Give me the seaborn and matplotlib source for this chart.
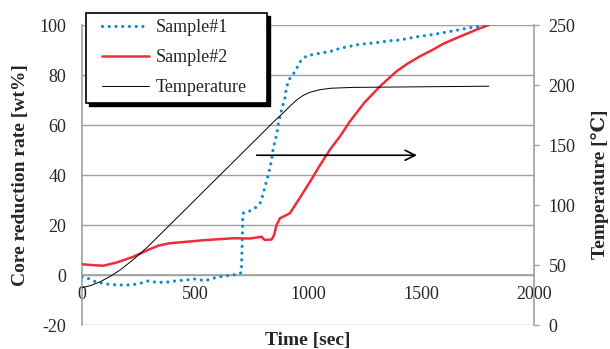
import matplotlib
matplotlib.use("Agg")
import matplotlib.pyplot as plt
from matplotlib.patches import Rectangle
from matplotlib.ticker import MultipleLocator
import seaborn as sns
import pandas as pd

# ---- data ----
s1_time = [0, 30, 60, 90, 125, 170, 212, 250, 292, 335, 380, 419, 460, 500, 544, 596,
           640, 692, 705, 708, 712, 736, 765, 788, 802, 810, 824, 839, 846, 861, 869,
           883, 898, 905, 920, 942, 965, 994, 1053, 1112, 1142, 1230, 1290, 1363, 1407,
           1481, 1540, 1598, 1640, 1686, 1730, 1774, 1800]
s1_rate = [-0.7, -1.5, -2.7, -3.3, -3.8, -4.0, -4.0, -3.5, -2.4, -3.0, -2.8, -2.3, -2.0,
           -1.6, -2.3, -0.9, -0.3, 0.3, 1.0, 10.0, 24.7, 25.3, 26.7, 28.7, 32.5, 35.5,
           40.0, 46.0, 50.7, 56.0, 60.7, 66.0, 70.7, 75.3, 78.7, 81.3, 85.3, 87.7, 88.7,
           89.7, 90.7, 92.3, 92.8, 93.7, 94.0, 95.3, 96.0, 96.9, 97.6, 98.4, 99.1, 99.7,
           100.0]

s2_time = [0, 40, 94, 153, 227, 301, 340, 389, 463, 551, 670, 743, 795, 802, 810, 839,
           850, 861, 876, 905, 920, 965, 1009, 1050, 1100, 1142, 1186, 1250, 1319, 1392,
           1440, 1496, 1550, 1599, 1650, 1702, 1750, 1800]
s2_rate = [4.3, 4.0, 3.7, 5.0, 7.3, 10.4, 11.8, 12.7, 13.3, 14.0, 14.7, 14.6, 15.3, 14.5,
           14.0, 14.2, 16.0, 20.0, 22.7, 24.0, 24.7, 31.0, 37.3, 43.5, 50.5, 55.5, 61.5,
           69.0, 75.5, 81.5, 84.5, 87.5, 90.0, 92.5, 94.5, 96.5, 98.3, 100.0]

temp_time = [0, 40, 80, 125, 170, 230, 290, 410, 550, 700, 850, 900, 920, 950, 980, 1010,
             1050, 1100, 1200, 1500, 1800]
temp_val = [31, 33, 36, 40.5, 46, 55, 65, 87.4, 113.6, 141.6, 169.7, 178.5, 182.3, 187.5,
            191.5, 194, 196, 197.3, 198, 198.5, 199]

x_ticks = [0, 500, 1000, 1500, 2000]
left_ticks = [-20, 0, 20, 40, 60, 80, 100]
right_ticks = [0, 50, 100, 150, 200, 250]
series_names = ["Sample#1", "Sample#2", "Temperature"]

# ---- style ----
sns.set_style("white")
plt.rcParams["font.family"] = ["Liberation Serif", "DejaVu Serif"]
plt.rcParams["axes.unicode_minus"] = False

GRAY = "#a0a0a0"
BLUE = "#0e8ccc"
RED = "#ee2c3c"

W, H = 610, 349
fig = plt.figure(figsize=(W / 100, H / 100), dpi=100)
ax = fig.add_axes([82 / W, 24 / H, 452 / W, 300 / H])
ax2 = ax.twinx()

df1 = pd.DataFrame({"t": s1_time, "v": s1_rate})
df2 = pd.DataFrame({"t": s2_time, "v": s2_rate})
dft = pd.DataFrame({"t": temp_time, "v": temp_val})

sns.lineplot(data=df1, x="t", y="v", ax=ax, color=BLUE, lw=2.3, estimator=None,
             linestyle=(0, (0.01, 2.1)), dash_capstyle="round", label=series_names[0],
             legend=False, zorder=3)
sns.lineplot(data=df2, x="t", y="v", ax=ax, color=RED, lw=1.8, estimator=None,
             label=series_names[1], legend=False, zorder=3)
sns.lineplot(data=dft, x="t", y="v", ax=ax2, color="black", lw=0.7, estimator=None,
             label=series_names[2], legend=False, zorder=2)

# left axis
ax.set_xlim(0, 2000)
ax.set_ylim(-20, 100)
ax.set_yticks(left_ticks)
ax.set_xticks(x_ticks)
ax.xaxis.set_minor_locator(MultipleLocator(100))
ax.grid(axis="y", color=GRAY, lw=1.0)
ax.grid(axis="x", visible=False)
ax.set_axisbelow(True)
for s in ["top", "right"]:
    ax.spines[s].set_visible(False)
ax.spines["left"].set_color(GRAY)
ax.spines["left"].set_linewidth(1.2)
ax.spines["bottom"].set_position(("data", 0))
ax.spines["bottom"].set_color(GRAY)
ax.spines["bottom"].set_linewidth(1.2)
ax.tick_params(axis="y", length=0, pad=11.5, labelsize=13)
ax.tick_params(axis="x", which="major", direction="in", length=3.8, width=1,
               color=GRAY, pad=8, labelsize=13)
ax.tick_params(axis="x", which="minor", direction="in", length=3.0, width=1, color=GRAY)
ax.set_xlabel("Time [sec]", fontsize=14, fontweight="bold", va="center")
ax.xaxis.set_label_coords(0.5, -0.053)
ax.set_ylabel("Core reduction rate [wt%]", fontsize=14, fontweight="bold", va="center")
ax.yaxis.set_label_coords(-0.135, 0.5)

# right axis
ax2.set_ylim(0, 250)
ax2.set_yticks(right_ticks)
for s in ["top", "left", "bottom"]:
    ax2.spines[s].set_visible(False)
ax2.spines["right"].set_color(GRAY)
ax2.spines["right"].set_linewidth(1.2)
ax2.tick_params(axis="y", direction="out", length=3.6, width=1, color=GRAY,
                pad=7, labelsize=13)
ax2.grid(False)
ax2.set_ylabel("Temperature [℃]", fontsize=14, fontweight="bold", va="center", rotation=90)
ax2.yaxis.set_label_coords(1.145, 0.47)

# arrow pointing to the right axis
ax.annotate("", xy=(1482, 47.9), xytext=(773, 47.9),
            arrowprops=dict(arrowstyle="->", color="black", lw=1.2,
                            mutation_scale=18, shrinkA=0, shrinkB=0))

# legend
handles = ax.get_lines()[:2] + ax2.get_lines()[:1]
leg = fig.legend(handles, series_names, loc="upper left",
                 bbox_to_anchor=(102 / W, 1 - 19 / H), bbox_transform=fig.transFigure,
                 frameon=False, fontsize=13, handlelength=2.6, handletextpad=0.4,
                 labelspacing=0.72, borderpad=0, borderaxespad=0)
x0, x1 = 86, 267
y0, y1 = H - 103, H - 13
shadow = Rectangle(((x0 + 3) / W, (y0 - 3) / H), (x1 - x0) / W, (y1 - y0) / H,
                   transform=fig.transFigure, facecolor="black", edgecolor="black",
                   lw=1.0, zorder=3.5)
box = Rectangle((x0 / W, y0 / H), (x1 - x0) / W, (y1 - y0) / H,
                transform=fig.transFigure, facecolor="white", edgecolor="black",
                lw=1.2, zorder=4)
fig.add_artist(shadow)
fig.add_artist(box)
leg.set_zorder(5)

fig.savefig("out.png", dpi=100)
